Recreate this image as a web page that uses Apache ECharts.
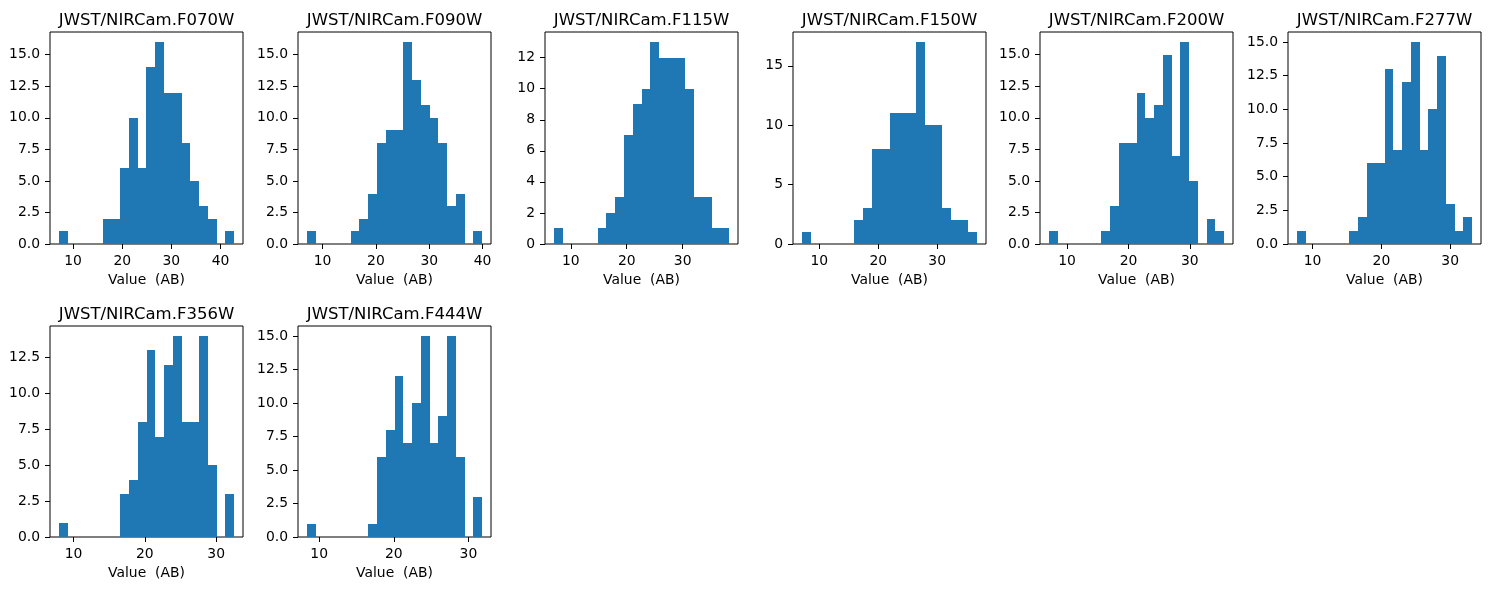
<!DOCTYPE html>
<html>
<head>
<meta charset="utf-8">
<script src="https://cdn.jsdelivr.net/npm/echarts@6/dist/echarts.min.js"></script>
<style>
html,body{margin:0;padding:0;background:#ffffff;}
#chart{width:1490px;height:590px;}
</style>
</head>
<body>
<div id="chart"></div>
<script>
// ---------------- data ----------------
const filters = [
  'JWST/NIRCam.F070W', 'JWST/NIRCam.F090W', 'JWST/NIRCam.F115W', 'JWST/NIRCam.F150W',
  'JWST/NIRCam.F200W', 'JWST/NIRCam.F277W', 'JWST/NIRCam.F356W', 'JWST/NIRCam.F444W'
];
// histogram range (min / max of the values) for each filter, 20 bins each
const dataMin = [7.08, 7.03, 6.95, 7.03, 7.01, 7.70, 7.94, 8.34];
const dataMax = [42.80, 39.94, 38.33, 36.80, 35.60, 33.20, 32.53, 31.85];

const countsF070W = [1,0,0,0,0,2,2,6,10,6,14,16,12,12,8,5,3,2,0,1];
const countsF090W = [1,0,0,0,0,1,2,4,8,9,9,16,13,11,10,8,3,4,0,1];
const countsF115W = [1,0,0,0,0,1,2,3,7,9,10,13,12,12,12,10,3,3,1,1];
const countsF150W = [1,0,0,0,0,0,2,3,8,8,11,11,11,17,10,10,3,2,2,1];
const countsF200W = [1,0,0,0,0,0,1,3,8,8,12,10,11,15,7,16,5,0,2,1];
const countsF277W = [1,0,0,0,0,0,1,2,6,6,13,7,12,15,7,10,14,3,1,2];
const countsF356W = [1,0,0,0,0,0,0,3,4,8,13,7,12,14,8,8,14,5,0,3];
const countsF444W = [1,0,0,0,0,0,0,1,6,8,12,7,10,15,7,9,15,6,0,3];
const counts = [countsF070W, countsF090W, countsF115W, countsF150W,
                countsF200W, countsF277W, countsF356W, countsF444W];

const xTicks = [
  [10,20,30,40], [10,20,30,40], [10,20,30], [10,20,30],
  [10,20,30], [10,20,30], [10,20,30], [10,20,30]
];
const yTicks = [
  [0,2.5,5,7.5,10,12.5,15],
  [0,2.5,5,7.5,10,12.5,15],
  [0,2,4,6,8,10,12],
  [0,5,10,15],
  [0,2.5,5,7.5,10,12.5,15],
  [0,2.5,5,7.5,10,12.5,15],
  [0,2.5,5,7.5,10,12.5],
  [0,2.5,5,7.5,10,12.5,15]
];
const xName = 'Value  (AB)';

// ---------------- layout ----------------
const colLeft = [50, 298, 545, 793, 1040, 1288];
const rowTop = [32, 326];
const cellW = 193;
const cellH = [212, 211];
const BAR = '#1f77b4';
const FONT = 'DejaVu Sans';

const grids = [], xAxes = [], yAxes = [], series = [], graphics = [];

filters.forEach((name, i) => {
  const r = Math.floor(i / 6), c = i % 6;
  const left = colLeft[c], top = rowTop[r], h = cellH[r];
  grids.push({left: left, top: top, width: cellW, height: h,
              show: true, borderColor: '#000', borderWidth: 1, backgroundColor: '#fff'});

  const lo = dataMin[i], hi = dataMax[i], span = hi - lo;
  const nb = counts[i].length, bw = span / nb;
  const maxCount = Math.max.apply(null, counts[i]);
  const decimals = yTicks[i].some(v => v % 1 !== 0) ? 1 : 0;

  xAxes.push({
    type: 'value', gridIndex: i,
    min: lo - 0.05 * span, max: hi + 0.05 * span,
    name: xName, nameLocation: 'middle', nameGap: 29,
    nameTextStyle: {fontFamily: FONT, fontSize: 13.9, color: '#000'},
    axisLine: {show: false},
    axisTick: {show: true, length: 5, lineStyle: {color: '#000', width: 1}, customValues: xTicks[i]},
    axisLabel: {show: true, margin: 10, fontFamily: FONT, fontSize: 13.9, color: '#000',
                customValues: xTicks[i], formatter: v => String(v)},
    splitLine: {show: false}
  });
  yAxes.push({
    type: 'value', gridIndex: i,
    min: 0, max: maxCount * 1.05,
    axisLine: {show: false},
    axisTick: {show: true, length: 5, lineStyle: {color: '#000', width: 1}, customValues: yTicks[i]},
    axisLabel: {show: true, margin: 10, fontFamily: FONT, fontSize: 13.9, color: '#000',
                customValues: yTicks[i], formatter: v => Number(v).toFixed(decimals)},
    splitLine: {show: false}
  });

  const bins = counts[i].map((cnt, k) => [lo + k * bw, lo + (k + 1) * bw, cnt]);
  series.push({
    type: 'custom', xAxisIndex: i, yAxisIndex: i,
    dimensions: ['x0', 'x1', 'count'],
    encode: {x: [0, 1], y: 2},
    data: bins,
    silent: true,
    renderItem: function (params, api) {
      const cnt = api.value(2);
      if (!cnt) return null;
      const p0 = api.coord([api.value(0), cnt]);
      const p1 = api.coord([api.value(1), 0]);
      const xa = Math.round(p0[0]), xb = Math.round(p1[0]);
      const ya = Math.round(p0[1]), yb = Math.round(p1[1]);
      return {
        type: 'rect',
        shape: {x: xa, y: ya, width: xb - xa, height: yb - ya},
        style: {fill: BAR}
      };
    }
  });

  graphics.push({
    type: 'text', x: left + cellW / 2, y: top - 11.3, silent: true,
    style: {text: name, fill: '#000', font: '16.5px "DejaVu Sans"',
            textAlign: 'center', textVerticalAlign: 'middle'}
  });
});

const chart = echarts.init(document.getElementById('chart'), null, {renderer: 'canvas'});
chart.setOption({
  animation: false,
  backgroundColor: '#ffffff',
  grid: grids,
  xAxis: xAxes,
  yAxis: yAxes,
  series: series,
  graphic: graphics
});
</script>
</body>
</html>
